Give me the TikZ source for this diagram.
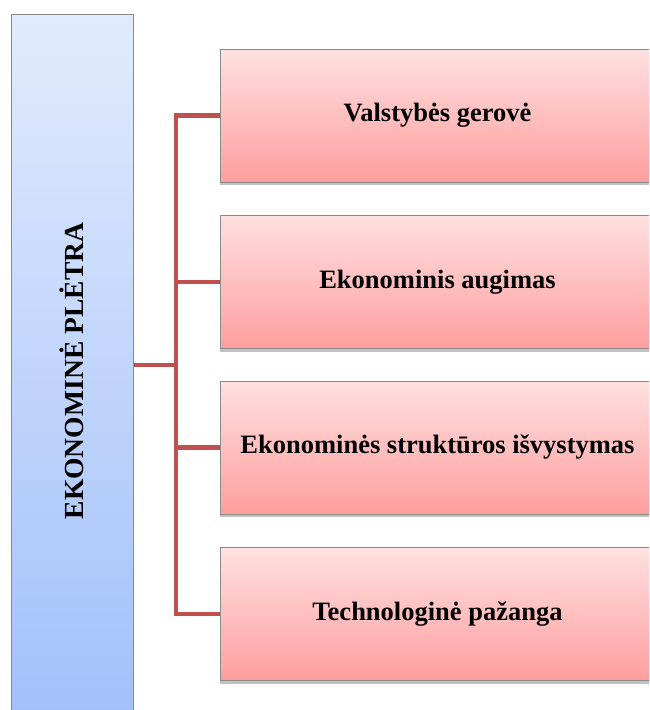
\documentclass[tikz,border=0pt]{standalone}
\usepackage{fontspec}
\setmainfont{Liberation Serif}
\usetikzlibrary{shadows,calc}
\definecolor{conncol}{HTML}{C0504D}
\definecolor{bluetop}{HTML}{E1EBFD}
\definecolor{bluebot}{HTML}{A2C0FA}
\definecolor{redtop}{HTML}{FFE0E0}
\definecolor{redbot}{HTML}{FF9E9E}
\definecolor{edgegray}{HTML}{8A8A8A}
\begin{document}
\begin{tikzpicture}[x=1pt,y=-1pt,
  mainbox/.style={draw=edgegray, line width=1pt, rectangle, top color=bluetop, bottom color=bluebot,
    minimum width=122pt, minimum height=702pt, inner sep=0pt,
    font=\fontsize{27.6}{30}\selectfont\bfseries},
  itembox/.style={draw=edgegray, line width=1pt, rectangle, top color=redtop, bottom color=redbot,
    minimum width=435pt, minimum height=133pt, inner sep=0pt,
    font=\fontsize{26.5}{30}\selectfont\bfseries,
    drop shadow={shadow xshift=0pt, shadow yshift=-3pt, opacity=0.4, fill=black!60}},
  conn/.style={draw=conncol, line width=4.5pt, line join=miter}]
\useasboundingbox (0,0) rectangle (649,710);
\clip (0,0) rectangle (649,710);
\fill[white] (0,0) rectangle (649,710);
\node[mainbox] (main) at (72,365) {};
\node[font=\fontsize{27.6}{30}\selectfont\bfseries, rotate=90, inner sep=0pt] (maintext) at (72,371) {EKONOMINĖ PLĖTRA};
\node[itembox] (b1) at (437.5,115.5) {Valstybės gerovė};
\node[itembox] (b2) at (437.5,282) {Ekonominis augimas};
\node[itembox] (b3) at (437.5,447.5) {Ekonominės struktūros išvystymas};
\node[itembox] (b4) at (437.5,614) {Technologinė pažanga};
\coordinate (top) at (176,115.5);
\draw[conn] (b1.west) -- (top) |- (b4.west);
\draw[conn] (b2.west) -- (b2.west -| top);
\draw[conn] (b3.west) -- (b3.west -| top);
\draw[conn] (main.east) -- (main.east -| top);
\end{tikzpicture}
\end{document}
